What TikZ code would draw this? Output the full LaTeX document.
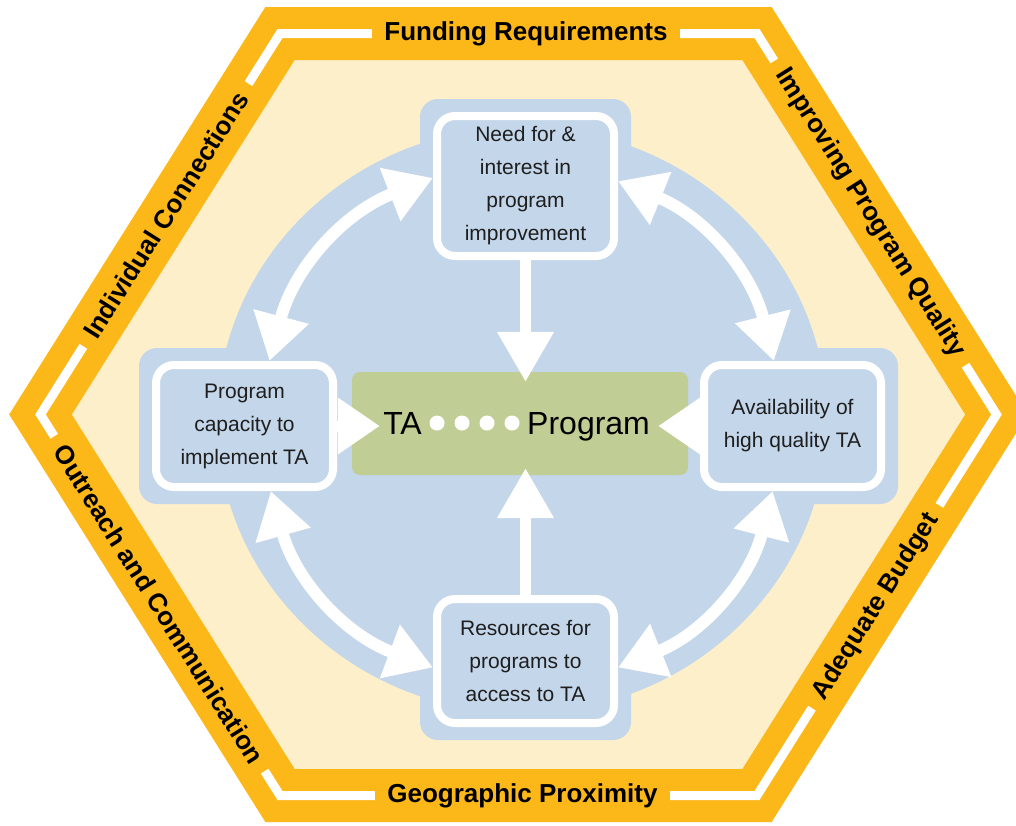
\documentclass[tikz,border=0pt]{standalone}
\usepackage{fontspec}
\setmainfont{Liberation Sans}
\usetikzlibrary{arrows.meta,fit,backgrounds}
\definecolor{hexorange}{RGB}{252,183,24}
\definecolor{hexcream}{RGB}{253,239,201}
\definecolor{ringblue}{RGB}{196,214,234}
\definecolor{coregreen}{RGB}{192,206,150}
\definecolor{inktext}{RGB}{30,30,30}

\begin{document}
\begin{tikzpicture}[x=1pt, y=-1pt,
  factor/.style = {rectangle, rounded corners=18pt, draw=white, line width=8pt,
    fill=ringblue, align=center, text=inktext, minimum width=177pt,
    font=\fontsize{21}{33}\selectfont},
  backdrop/.style = {rectangle, rounded corners=18pt, fill=ringblue, inner sep=13pt},
  edgelabel/.style = {fill=hexorange, inner xsep=12pt, inner ysep=3pt,
    font=\fontsize{26}{30}\selectfont\bfseries},
  arr/.style = {white, line width=11pt, -{Triangle[length=50pt,width=54pt]}},
  stub/.style = {white, line width=11pt, -{Triangle[length=42pt,width=54pt]}},
  dblarc/.style = {white, line width=12pt,
    {Triangle[length=46pt,width=54pt]}-{Triangle[length=46pt,width=54pt]}}]

  \useasboundingbox (0,0) rectangle (1016,825);

  \coordinate (h1) at (280,33.5);
  \coordinate (h2) at (757,33.5);
  \coordinate (h3) at (996.5,414.5);
  \coordinate (h4) at (757,795.5);
  \coordinate (h5) at (280,795.5);
  \coordinate (h6) at (40.5,414.5);

  \begin{scope}[on background layer]
    \draw[fill=hexcream, draw=hexorange, line width=53pt, line join=miter]
      (h1) -- (h2) -- (h3) -- (h4) -- (h5) -- (h6) -- cycle;
    \draw[white, line width=9pt, line join=miter]
      (h1) -- (h2) -- (h3) -- (h4) -- (h5) -- (h6) -- cycle;
    \fill[ringblue] (522,420) ellipse [x radius=305, y radius=293];
  \end{scope}

  \node[factor, minimum height=140pt] (need) at (525.5,186)
    {Need for \&\\interest in\\program\\improvement};
  \node[factor, minimum height=122pt] (capacity) at (244.5,426)
    {Program\\capacity to\\implement TA};
  \node[factor, minimum height=122pt] (avail) at (792.5,426)
    {Availability of\\high quality TA};
  \node[factor, minimum height=124pt] (resource) at (525.5,661)
    {Resources for\\programs to\\access to TA};

  \begin{scope}[on background layer]
    \foreach \b in {need,capacity,avail,resource}
      \node[backdrop, fit=(\b)] {};
  \end{scope}

  \node[rectangle, rounded corners=8pt, fill=coregreen,
    minimum width=336pt, minimum height=103pt] (core) at (520,423.5) {};
  \node[anchor=base east, inner sep=0pt, font=\fontsize{32}{36}\selectfont] (ta) at (422,434) {TA};
  \node[anchor=base west, inner sep=0pt, font=\fontsize{32}{36}\selectfont] (prog) at (527,434) {Program};
  \foreach \x in {437,462,487,512}
    \fill[white] (\x,423) circle (7.5);

  \draw[arr, shorten >=-10pt] (need.south) -- (need.south |- core.north);
  \draw[arr, shorten >=-7pt] (resource.north) -- (resource.north |- core.south);
  \draw[stub, shorten >=-28pt] (capacity.east) -- (capacity.east -| core.west);
  \draw[stub, shorten >=-30pt] (avail.west) -- (avail.west -| core.east);

  \draw[dblarc] (capacity.69) to[bend left=27] (need.175);
  \draw[dblarc] (need.3) to[bend left=27] (avail.106);
  \draw[dblarc] (avail.253) to[bend left=27] (resource.-4);
  \draw[dblarc] (resource.184) to[bend left=27] (capacity.292);

  \node[edgelabel] (fund) at (526,33.5) {Funding Requirements};
  \node[edgelabel] (geo) at (522.5,796) {Geographic Proximity};
  \node[edgelabel, rotate=57.8] (indiv) at (166,215) {Individual Connections};
  \node[edgelabel, rotate=-57.8] (outreach) at (159,604) {Outreach and Communication};
  \node[edgelabel, rotate=-57.8] (improve) at (870,213) {Improving Program Quality};
  \node[edgelabel, rotate=57.8] (budget) at (876,607) {Adequate Budget};
\end{tikzpicture}
\end{document}
